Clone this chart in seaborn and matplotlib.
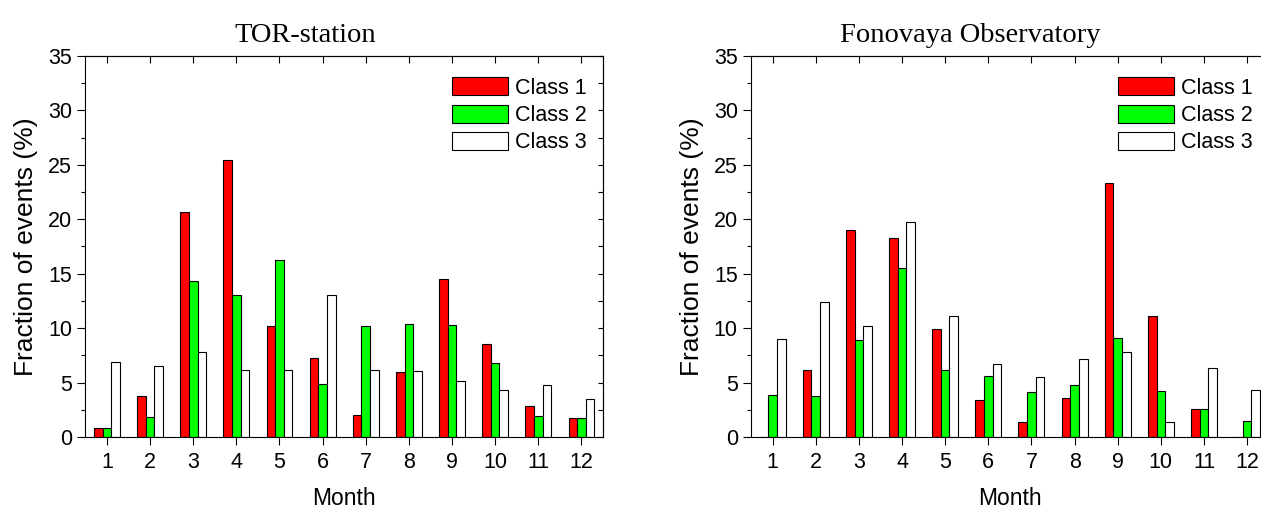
import pandas as pd
import matplotlib
matplotlib.use("Agg")
import matplotlib.pyplot as plt
import seaborn as sns
from matplotlib.ticker import MultipleLocator

# Datos
months = [1, 2, 3, 4, 5, 6, 7, 8, 9, 10, 11, 12]
classes = ["Class 1", "Class 2", "Class 3"]

tor_class1 = [0.86, 3.73, 20.7, 25.4, 10.2, 7.3, 2.05, 6.0, 14.5, 8.55, 2.88, 1.74]
tor_class2 = [0.86, 1.87, 14.3, 13.06, 16.3, 4.9, 10.2, 10.34, 10.25, 6.82, 1.93, 1.74]
tor_class3 = [6.9, 6.55, 7.83, 6.15, 6.12, 13.0, 6.15, 6.03, 5.14, 4.28, 4.8, 3.46]

fon_class1 = [0.0, 6.18, 19.0, 18.3, 9.88, 3.36, 1.41, 3.61, 23.37, 11.13, 2.54, 0.0]
fon_class2 = [3.88, 3.73, 8.87, 15.5, 6.18, 5.57, 4.16, 4.8, 9.12, 4.19, 2.54, 1.47]
fon_class3 = [8.99, 12.36, 10.16, 19.73, 11.1, 6.73, 5.51, 7.19, 7.83, 1.41, 6.33, 4.31]

titles = ["TOR-station", "Fonovaya Observatory"]
colores = {"Class 1": "#ff0000", "Class 2": "#00ff00", "Class 3": "#ffffff"}


def armar_df(c1, c2, c3):
    filas = []
    for nombre, vals in zip(classes, [c1, c2, c3]):
        for m, v in zip(months, vals):
            filas.append({"Month": m, "Class": nombre, "Value": v})
    return pd.DataFrame(filas)


datos = [armar_df(tor_class1, tor_class2, tor_class3),
         armar_df(fon_class1, fon_class2, fon_class3)]

sns.set_style("white")
plt.rcParams["font.family"] = ["Liberation Sans", "DejaVu Sans"]
plt.rcParams["text.color"] = "black"
plt.rcParams["axes.labelcolor"] = "black"
plt.rcParams["xtick.color"] = "black"
plt.rcParams["ytick.color"] = "black"

fig = plt.figure(figsize=(12.61, 5.08), dpi=100)
posiciones = [[0.0677, 0.1398, 0.4105, 0.75], [0.5956, 0.1398, 0.4105, 0.75]]

for pos, df, titulo in zip(posiciones, datos, titles):
    ax = fig.add_axes(pos)
    sns.barplot(data=df, x="Month", y="Value", hue="Class", palette=colores,
                hue_order=classes, width=0.6, saturation=1, edgecolor="black",
                linewidth=0.8, errorbar=None, ax=ax)
    ax.set_xlim(-0.5, 11.5)
    ax.set_ylim(0, 35)
    ax.yaxis.set_major_locator(MultipleLocator(5))
    ax.yaxis.set_minor_locator(MultipleLocator(2.5))
    ax.tick_params(axis="y", which="major", direction="out", length=6, width=0.8,
                   labelsize=15.5, left=True)
    ax.tick_params(axis="y", which="minor", direction="out", length=3, width=0.8,
                   left=True)
    ax.tick_params(axis="x", which="major", direction="out", length=6, width=0.8,
                   labelsize=15.5, bottom=True, pad=5)
    for s in ax.spines.values():
        s.set_color("black")
        s.set_linewidth(0.8)

    # ejes secundarios para las marcas hacia adentro
    sec_y = ax.secondary_yaxis("right")
    sec_y.yaxis.set_major_locator(MultipleLocator(2.5))
    sec_y.tick_params(direction="in", length=3.6, width=0.8, labelright=False)
    sec_x = ax.secondary_xaxis("top")
    sec_x.set_xticks(range(len(months)))
    sec_x.tick_params(direction="in", length=5, width=0.8, labeltop=False)

    ax.set_xlabel("Month", fontsize=16.5, labelpad=10)
    ax.set_ylabel("Fraction of events (%)", fontsize=19, labelpad=7)
    ax.set_title(titulo, fontsize=20.5, family=["Liberation Serif"], x=0.424, pad=10)

    ax.legend(loc="upper left", bbox_to_anchor=(0.708, 0.944), frameon=False,
              fontsize=15.5, handlelength=2.6, handleheight=0.9, handletextpad=0.35,
              labelspacing=0.28, borderpad=0, borderaxespad=0)

plt.savefig("out.png", dpi=100)
